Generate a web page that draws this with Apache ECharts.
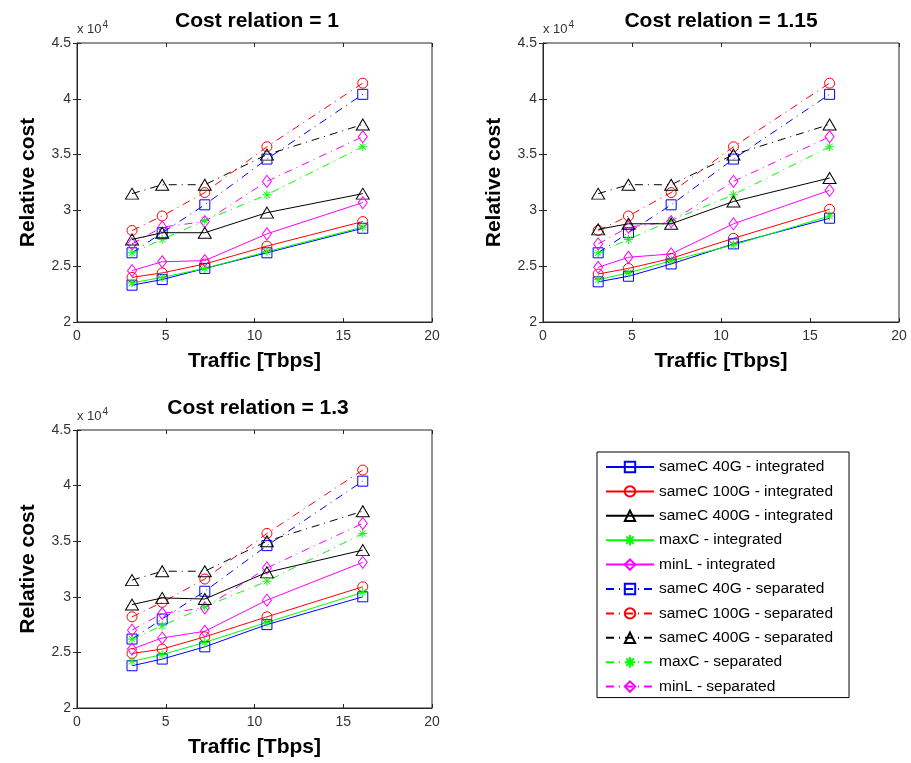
<!DOCTYPE html>
<html>
<head>
<meta charset="utf-8">
<script src="https://cdn.jsdelivr.net/npm/echarts@6/dist/echarts.min.js"></script>
<style>
  html, body { margin: 0; padding: 0; background: #fff; }
  #chart { width: 911px; height: 763px; }
</style>
</head>
<body>
<div id="chart"></div>
<script>
// x values (Tbps)
var traffic = [3.1, 4.8, 7.2, 10.7, 16.1];

var panelTitles = ['Cost relation = 1', 'Cost relation = 1.15', 'Cost relation = 1.3'];
var seriesNames = [
  'sameC 40G - integrated', 'sameC 100G - integrated', 'sameC 400G - integrated',
  'maxC - integrated', 'minL - integrated',
  'sameC 40G - separated', 'sameC 100G - separated', 'sameC 400G - separated',
  'maxC - separated', 'minL - separated'
];
var yTicks = [2, 2.5, 3, 3.5, 4, 4.5];

// relative cost, x 10^4 -- integrated, cost relation = 1
var cr1_sameC40G  = [2.33, 2.38, 2.48, 2.62, 2.84];
var cr1_sameC100G = [2.40, 2.44, 2.52, 2.68, 2.90];
var cr1_sameC400G = [2.74, 2.80, 2.80, 2.98, 3.15];
var cr1_maxC      = [2.35, 2.40, 2.48, 2.63, 2.85];
var cr1_minL      = [2.46, 2.54, 2.55, 2.79, 3.07];
// cost relation = 1.15
var cr115_sameC40G  = [2.36, 2.41, 2.52, 2.70, 2.93];
var cr115_sameC100G = [2.43, 2.48, 2.57, 2.75, 3.01];
var cr115_sameC400G = [2.83, 2.88, 2.88, 3.08, 3.29];
var cr115_maxC      = [2.38, 2.44, 2.55, 2.69, 2.95];
var cr115_minL      = [2.49, 2.58, 2.61, 2.88, 3.18];
// cost relation = 1.3
var cr13_sameC40G  = [2.38, 2.44, 2.55, 2.75, 3.00];
var cr13_sameC100G = [2.49, 2.53, 2.64, 2.82, 3.09];
var cr13_sameC400G = [2.93, 2.99, 2.98, 3.22, 3.42];
var cr13_maxC      = [2.42, 2.48, 2.59, 2.77, 3.04];
var cr13_minL      = [2.53, 2.63, 2.69, 2.97, 3.31];
// separated (same in all three panels)
var sep_sameC40G  = [2.62, 2.80, 3.05, 3.46, 4.04];
var sep_sameC100G = [2.82, 2.95, 3.16, 3.57, 4.14];
var sep_sameC400G = [3.15, 3.23, 3.23, 3.50, 3.77];
var sep_maxC      = [2.62, 2.74, 2.91, 3.14, 3.57];
var sep_minL      = [2.70, 2.85, 2.90, 3.26, 3.66];

var panelData = [
  [cr1_sameC40G, cr1_sameC100G, cr1_sameC400G, cr1_maxC, cr1_minL],
  [cr115_sameC40G, cr115_sameC100G, cr115_sameC400G, cr115_maxC, cr115_minL],
  [cr13_sameC40G, cr13_sameC100G, cr13_sameC400G, cr13_maxC, cr13_minL]
];
var separated = [sep_sameC40G, sep_sameC100G, sep_sameC400G, sep_maxC, sep_minL];

var colors = ['#0000ff', '#ff0000', '#000000', '#00ff00', '#ff00ff'];
var star = 'path://M5,0L5,10M0,5L10,5M1.5,1.5L8.5,8.5M1.5,8.5L8.5,1.5';
var symbols = ['rect', 'circle', 'triangle', star, 'diamond'];
var symbolSizes = [10, 10, [13, 11], 9, [9, 12]];

var grids = [
  { left: 77, top: 43, width: 355, height: 279 },
  { left: 543, top: 43, width: 356, height: 279 },
  { left: 77, top: 430, width: 355, height: 278 }
];
var titlePos = [[252, 6], [716, 6], [253, 393]];
var font = 'Liberation Sans, Arial, sans-serif';
var axisColor = '#262626';

var option = {
  animation: false,
  backgroundColor: '#fff',
  title: [],
  grid: [],
  xAxis: [],
  yAxis: [],
  series: [],
  legend: {
    data: seriesNames,
    orient: 'vertical',
    left: 597,
    top: 452,
    padding: [7, 16, 3, 8],
    itemWidth: 48,
    itemHeight: 13,
    itemGap: 8.4,
    backgroundColor: '#fff',
    borderColor: '#000',
    borderWidth: 1,
    borderRadius: 0,
    textStyle: { fontFamily: font, fontSize: 15.5, color: '#000', padding: [0, 6, 0, 0] }
  }
};

grids.forEach(function (g, p) {
  option.grid.push({
    left: g.left, top: g.top, width: g.width, height: g.height,
    show: true, borderColor: axisColor, borderWidth: 1, backgroundColor: '#fff'
  });
  option.title.push({
    text: panelTitles[p], left: titlePos[p][0], top: titlePos[p][1], textAlign: 'center',
    textStyle: { fontFamily: font, fontSize: 21, fontWeight: 'bold', color: '#000' }
  });
  option.title.push({
    text: 'x 10{s|4}', left: g.left, top: g.top - 23, padding: 0,
    textStyle: { fontFamily: font, fontSize: 13, fontWeight: 'normal', color: '#333',
      rich: { s: { fontFamily: font, fontSize: 10, color: '#333', verticalAlign: 'top', padding: [0, 0, 9, 1] } } }
  });
  // bottom / left axes with labels
  option.xAxis.push({
    gridIndex: p, type: 'value', min: 0, max: 20, interval: 5, position: 'bottom',
    name: 'Traffic [Tbps]', nameLocation: 'middle', nameGap: 29,
    nameTextStyle: { fontFamily: font, fontSize: 21, fontWeight: 'bold', color: '#000' },
    axisLine: { show: true, lineStyle: { color: axisColor } },
    axisTick: { show: true, inside: true, length: 4, lineStyle: { color: axisColor } },
    axisLabel: { fontFamily: font, fontSize: 14, color: '#333', margin: 7 },
    splitLine: { show: false }
  });
  option.yAxis.push({
    gridIndex: p, type: 'value', min: 2, max: 4.5, interval: 0.5, position: 'left',
    name: 'Relative cost', nameLocation: 'middle', nameGap: 38,
    nameTextStyle: { fontFamily: font, fontSize: 21, fontWeight: 'bold', color: '#000' },
    axisLine: { show: true, lineStyle: { color: axisColor } },
    axisTick: { show: true, inside: true, length: 4, lineStyle: { color: axisColor } },
    axisLabel: { fontFamily: font, fontSize: 14, color: '#333', margin: 6,
      formatter: function (v) { return yTicks.indexOf(v) >= 0 ? String(v) : ''; } },
    splitLine: { show: false }
  });
  // top / right axes: ticks only (box style)
  option.xAxis.push({
    gridIndex: p, type: 'value', min: 0, max: 20, interval: 5, position: 'top',
    axisLine: { show: false }, axisLabel: { show: false }, splitLine: { show: false },
    axisTick: { show: true, inside: true, length: 4, lineStyle: { color: axisColor } }
  });
  option.yAxis.push({
    gridIndex: p, type: 'value', min: 2, max: 4.5, interval: 0.5, position: 'right',
    axisLine: { show: false }, axisLabel: { show: false }, splitLine: { show: false },
    axisTick: { show: true, inside: true, length: 4, lineStyle: { color: axisColor } }
  });

  var sets = panelData[p].concat(separated);
  sets.forEach(function (vals, k) {
    var c = colors[k % 5];
    option.series.push({
      name: seriesNames[k],
      type: 'line',
      xAxisIndex: p * 2,
      yAxisIndex: p * 2,
      data: traffic.map(function (t, i) { return [t, vals[i]]; }),
      symbol: symbols[k % 5],
      symbolSize: symbolSizes[k % 5],
      showAllSymbol: true,
      z: k < 5 ? 3 : 2,
      itemStyle: { color: 'transparent', borderColor: c, borderWidth: 1 },
      lineStyle: { color: c, width: 1, type: k < 5 ? 'solid' : [8, 5, 1, 5] },
      emphasis: { disabled: true }
    });
  });
});

var chart = echarts.init(document.getElementById('chart'));
chart.setOption(option);
</script>
</body>
</html>
